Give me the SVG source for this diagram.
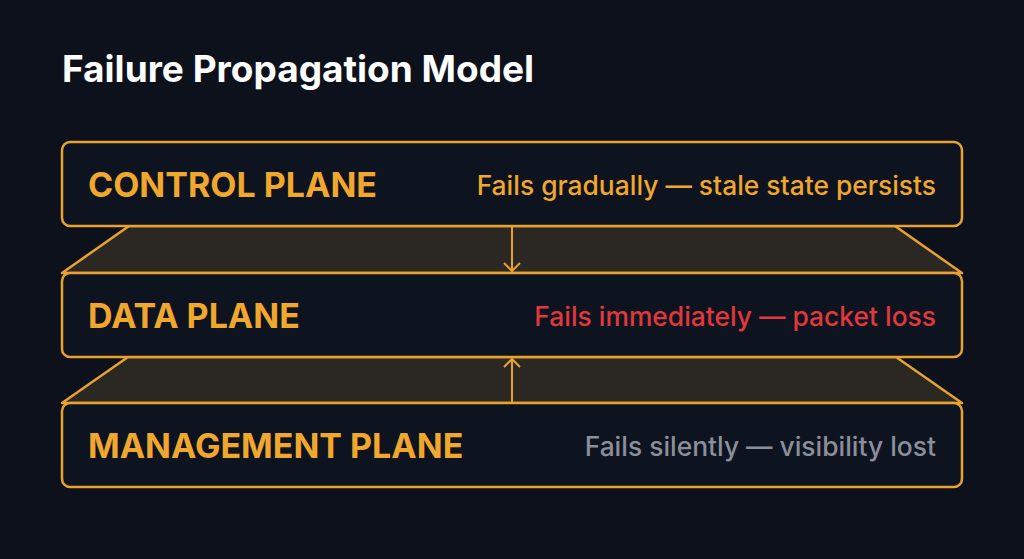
<svg xmlns="http://www.w3.org/2000/svg" width="1024" height="559" viewBox="0 0 1024 559">
<style>
.box{fill:#0e1320;stroke:#e9a12f;stroke-width:2.5}
.band{fill:#2b2823;stroke:#e9a12f;stroke-width:2.5;stroke-linejoin:round}
.lbl{font-family:Inter,"Liberation Sans",sans-serif;font-weight:700;font-size:34px;fill:#f0a72e}
.desc{font-family:Inter,"Liberation Sans",sans-serif;font-weight:500;font-size:26.4px;text-anchor:end}
.ar{stroke:#e9a12f;stroke-width:2;fill:none}
</style>
<defs><marker id="ah" markerWidth="20" markerHeight="20" refX="9" refY="9" orient="auto" markerUnits="userSpaceOnUse"><path d="M1,1 L9,9 L1,17" fill="none" stroke="#e9a12f" stroke-width="2"/></marker></defs>
<rect width="1024" height="559" fill="#0d111b"/>
<text x="62" y="82" font-family="Inter,'Liberation Sans',sans-serif" font-weight="700" font-size="37" fill="#ffffff">Failure Propagation Model</text>
<g id="connectors">
<polygon class="band" points="129,226 895,226 962,273 62,273"/>
<polygon class="band" points="128,357 896,357 962,403 62,403"/>
<line class="ar" x1="512" y1="226" x2="512" y2="271" marker-end="url(#ah)"/>
<line class="ar" x1="512" y1="403" x2="512" y2="359" marker-end="url(#ah)"/>
</g>
<g id="control"><rect class="box" x="62" y="142" width="900" height="84" rx="8"/>
<text class="lbl" x="88" y="197">CONTROL PLANE</text>
<text class="desc" x="936" y="195" fill="#f0a72e">Fails gradually — stale state persists</text></g>
<g id="data"><rect class="box" x="62" y="273" width="900" height="84" rx="8"/>
<text class="lbl" x="88" y="328">DATA PLANE</text>
<text class="desc" x="936" y="326" fill="#e0383c">Fails immediately — packet loss</text></g>
<g id="management"><rect class="box" x="62" y="403" width="900" height="84" rx="8"/>
<text class="lbl" x="88" y="458">MANAGEMENT PLANE</text>
<text class="desc" x="936" y="456" fill="#8b8f99">Fails silently — visibility lost</text></g>
</svg>
